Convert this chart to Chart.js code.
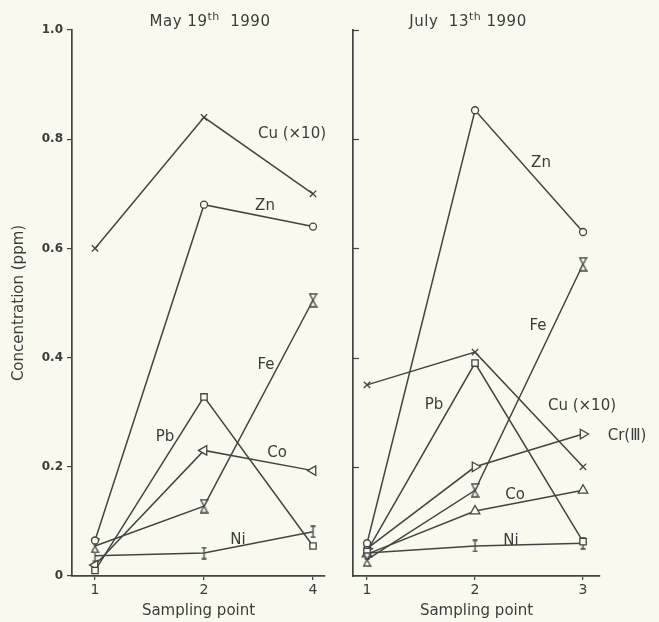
<!DOCTYPE html>
<html>
<head>
<meta charset="utf-8">
<script src="https://cdn.jsdelivr.net/npm/chart.js@4/dist/chart.umd.min.js"></script>
<style>
  html, body { margin: 0; padding: 0; background: #f9f9ef; }
  #wrap { position: relative; width: 659px; height: 622px; overflow: hidden; background: #f9f9ef; font-family: "DejaVu Sans", sans-serif; color: #3c3c3c; }
  .box { position: absolute; top: 0; height: 622px; }
  .t { position: absolute; white-space: nowrap; font-size: 15px; color: #3c3c3c; transform: translate(-50%, -50%); }
  .t sup { font-size: 11px; }
  .ttl { font-size: 15px; letter-spacing: 0.5px; }
</style>
</head>
<body>
<div id="wrap">
  <div class="box" style="left:0;width:335px"><canvas id="c1" width="335" height="622"></canvas></div>
  <div class="box" style="left:335px;width:324px"><canvas id="c2" width="324" height="622"></canvas></div>
  <div class="t ttl" style="left:210px;top:20px">May 19<sup>th</sup>&nbsp; 1990</div>
  <div class="t ttl" style="left:468px;top:20px">July&nbsp; 13<sup>th</sup> 1990</div>
  <div id="labels"></div>
</div>
<script>
// ---------- data ----------
const xLabelsMay = ['1', '2', '4'];
const xLabelsJuly = ['1', '2', '3'];
const yTicks = [0, 0.2, 0.4, 0.6, 0.8, 1.0];

// May 19th 1990 (sampling points 1, 2, 4)
const mayCu10 = [0.60, 0.84, 0.70];
const mayZn   = [0.065, 0.68, 0.64];
const mayFe   = [0.055, 0.128, 0.505];
const mayPb   = [0.01, 0.328, 0.055];
const mayCo   = [0.02, 0.23, 0.193];
const mayNi   = [0.037, 0.042, 0.081];

// July 13th 1990 (sampling points 1, 2, 3)
const julZn   = [0.06, 0.853, 0.63];
const julFe   = [0.03, 0.157, 0.571];
const julPb   = [0.045, 0.39, 0.063];
const julCu10 = [0.35, 0.41, 0.20];
const julCr   = [0.05, 0.20, 0.26];
const julCo   = [0.04, 0.119, 0.157];
const julNi   = [0.042, 0.055, 0.06];

// series label annotations (text, pixel centre)
const seriesLabels = [
  ['Cu (\u00d710)', 292, 133], ['Zn', 265, 205], ['Fe', 266, 364], ['Pb', 165, 436],
  ['Co', 277, 452], ['Ni', 238, 539],
  ['Zn', 541, 162], ['Fe', 538, 325], ['Pb', 434, 404], ['Cu (\u00d710)', 582, 405],
  ['Cr(\u2162)', 627, 435], ['Co', 515, 494], ['Ni', 511, 540]
];

// ---------- styles ----------
const INK = '#444444';
const BG = '#f9f9ef';

function mk(w, h, draw) {
  const c = document.createElement('canvas');
  c.width = w; c.height = h;
  const g = c.getContext('2d');
  g.strokeStyle = INK; g.fillStyle = BG; g.lineWidth = 1.3;
  draw(g, w, h);
  return c;
}
const hourglass = mk(9, 15, (g, w, h) => {
  g.beginPath();
  g.moveTo(1, 1); g.lineTo(w - 1, 1); g.lineTo(1, h - 1); g.lineTo(w - 1, h - 1); g.closePath();
  g.fill(); g.stroke();
});
const ibeam = mk(9, 13, (g, w, h) => {
  g.beginPath();
  g.moveTo(2, 1); g.lineTo(w - 2, 1);
  g.moveTo(w / 2, 1); g.lineTo(w / 2, h - 1);
  g.moveTo(2, h - 1); g.lineTo(w - 2, h - 1);
  g.stroke();
});

function series(values, style, extra) {
  return Object.assign({
    data: values.map((v, i) => ({ x: i + 1, y: v })),
    borderColor: INK, borderWidth: 1.5,
    pointStyle: style, pointRadius: 3.8, pointBorderWidth: 1.3,
    pointBorderColor: INK, pointBackgroundColor: BG,
    tension: 0, fill: false
  }, extra || {});
}

const tickFont = { family: 'DejaVu Sans', size: 12, weight: 'bold' };
const xFont = { family: 'DejaVu Sans', size: 14 };

function xScale(min, max, labels) {
  return {
    type: 'linear', min: min, max: max,
    afterBuildTicks: s => { s.ticks = [{ value: 1 }, { value: 2 }, { value: 3 }]; },
    afterFit: s => { s.height = 44; },
    ticks: { callback: v => labels[v - 1], color: '#3c3c3c', font: xFont, padding: 2, maxRotation: 0 },
    grid: { drawOnChartArea: false, tickLength: 4, color: INK, lineWidth: 1.2 },
    border: { color: INK, width: 1.7 },
    title: { display: true, text: 'Sampling point', color: '#3c3c3c', font: { family: 'DejaVu Sans', size: 15 }, padding: { top: 0, bottom: 0 } }
  };
}

const inwardTicks = {
  id: 'inwardTicks',
  afterDraw(chart, args, opts) {
    if (!opts.on) return;
    const y = chart.scales.y, x0 = chart.chartArea.left;
    const g = chart.ctx;
    g.save(); g.strokeStyle = INK; g.lineWidth = 1.2;
    [0.2, 0.4, 0.6, 0.8].forEach(v => {
      const p = Math.round(y.getPixelForValue(v)) + 0.5;
      g.beginPath(); g.moveTo(x0, p); g.lineTo(x0 + 6, p); g.stroke();
    });
    const t = Math.round(y.getPixelForValue(1.0)) + 0.5;
    g.beginPath(); g.moveTo(x0 - 1, t); g.lineTo(x0 + 6, t); g.stroke();
    g.restore();
  }
};
Chart.register(inwardTicks);

const common = {
  responsive: false, animation: false, devicePixelRatio: 1,
  plugins: { legend: { display: false }, tooltip: { enabled: false } }
};

new Chart(document.getElementById('c1'), {
  type: 'line',
  data: {
    datasets: [
      series(mayCu10, 'crossRot', { pointRadius: 4.5 }),
      series(mayZn, 'circle', { pointRadius: 3.5 }),
      series(mayFe, hourglass),
      series(mayPb, 'rect', { pointRadius: 4.5 }),
      series(mayCo, 'triangle', { pointRotation: -90, pointRadius: 5.5 }),
      series(mayNi, ibeam)
    ]
  },
  options: Object.assign({}, common, {
    layout: { padding: { top: 30, right: 10, left: 8, bottom: 2 } },
    plugins: Object.assign({}, common.plugins, { inwardTicks: { on: false } }),
    scales: {
      x: xScale(0.789, 3.11, xLabelsMay),
      y: {
        type: 'linear', min: 0, max: 1.0,
        afterBuildTicks: s => { s.ticks = yTicks.map(v => ({ value: v })); },
        afterFit: s => { s.width = 64; },
        ticks: { callback: v => v === 0 ? '0' : v.toFixed(1), color: '#3c3c3c', font: tickFont, padding: 4 },
        grid: { drawOnChartArea: false, tickLength: 5, color: INK, lineWidth: 1.2 },
        border: { color: INK, width: 1.7 },
        title: { display: true, text: 'Concentration (ppm)', color: '#3c3c3c', font: { family: 'DejaVu Sans', size: 15 }, padding: { top: 2, bottom: 0 } }
      }
    }
  })
});

new Chart(document.getElementById('c2'), {
  type: 'line',
  data: {
    datasets: [
      series(julZn, 'circle', { pointRadius: 3.5 }),
      series(julFe, hourglass),
      series(julPb, 'rect', { pointRadius: 4.5 }),
      series(julCu10, 'crossRot', { pointRadius: 4.5 }),
      series(julCr, 'triangle', { pointRotation: 90, pointRadius: 5.5 }),
      series(julCo, 'triangle', { pointRadius: 5.5 }),
      series(julNi, ibeam)
    ]
  },
  options: Object.assign({}, common, {
    layout: { padding: { top: 30, right: 59, left: 0, bottom: 2 } },
    plugins: Object.assign({}, common.plugins, { inwardTicks: { on: true } }),
    scales: {
      x: xScale(0.870, 3.157, xLabelsJuly),
      y: {
        type: 'linear', min: 0, max: 1.0,
        afterBuildTicks: s => { s.ticks = yTicks.map(v => ({ value: v })); },
        afterFit: s => { s.width = 18; },
        ticks: { display: false },
        grid: { display: false },
        border: { color: INK, width: 1.7 }
      }
    }
  })
});

// series labels
const lab = document.getElementById('labels');
seriesLabels.forEach(([txt, x, y]) => {
  const d = document.createElement('div');
  d.className = 't';
  d.style.left = x + 'px'; d.style.top = y + 'px';
  d.textContent = txt;
  lab.appendChild(d);
});
</script>
</body>
</html>
